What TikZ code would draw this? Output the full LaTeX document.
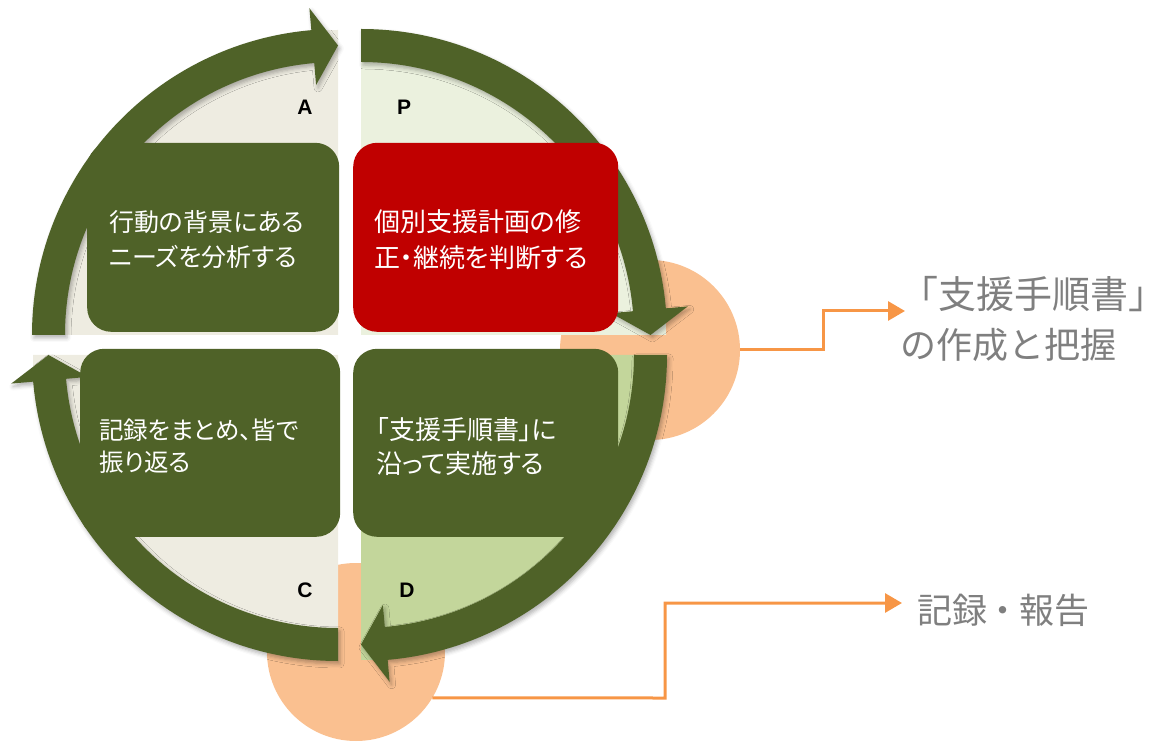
\documentclass[tikz,border=0pt]{standalone}
\usepackage{fontspec}
\newfontfamily\jp{Noto Sans CJK JP}
\newfontfamily\jpp[RawFeature=+palt]{Noto Sans CJK JP}
\newfontfamily\lat{Liberation Sans}
\usetikzlibrary{arrows.meta,shadows.blur}
\definecolor{olive}{HTML}{4F6228}
\definecolor{darkred}{HTML}{C00000}
\definecolor{tanfill}{HTML}{EEECE1}
\definecolor{pfill}{HTML}{EBF1DE}
\definecolor{dfill}{HTML}{C3D69B}
\definecolor{peach}{HTML}{FAC090}
\definecolor{orangeline}{HTML}{F79646}
\definecolor{labelgray}{HTML}{7F7F7F}
\newcommand\bandarrow[4]{%
  \begin{scope}[shift={#1}]
    \fill[arrowband] (#2:306) arc[start angle=#2, end angle=#3, radius=306]
      -- (#3:328) -- (#4:289.5) -- (#3:251) -- (#3:273)
      arc[start angle=#3, end angle=#2, radius=273] -- cycle;
  \end{scope}}
\tikzset{
  arrowband/.style={fill=olive, blur shadow={shadow xshift=2pt, shadow yshift=-3pt, shadow blur radius=4pt, shadow opacity=30}},
  stepbox/.style={rectangle, rounded corners=24pt, inner sep=0pt, anchor=south west},
  boxtext/.style={anchor=base west, inner sep=0pt, text=white, font=\jpp\fontsize{26}{35}\selectfont},
  phase/.style={inner sep=0pt, font=\lat\bfseries\fontsize{21}{24}\selectfont, text=black},
  peachdot/.style={circle, fill=peach, inner sep=0pt},
  conn/.style={draw=orangeline, line width=3pt, -{Triangle[length=17pt,width=19pt]}},
  sidelabel/.style={anchor=base west, inner sep=0pt, text=labelgray}
}
\newcommand\narrowdot[1]{\kern-#1em・\kern-#1em}
\begin{document}
\begin{tikzpicture}[x=1pt,y=1pt]
\useasboundingbox (0,0) rectangle (1169,742);
% peach circles behind
\node[peachdot, minimum size=180pt] (pc1) at (650,392) {};
\node[peachdot, minimum size=178pt] (pc2) at (356,90) {};
% quadrant fills
\fill[tanfill] (338,407) -- ++(180:305) arc[start angle=180, end angle=90, radius=305] -- cycle;
\fill[pfill] (361,407) -- ++(90:305) arc[start angle=90, end angle=0, radius=305] -- cycle;
\fill[dfill] (361,387) -- ++(0:305) arc[start angle=0, end angle=-90, radius=305] -- cycle;
\fill[tanfill] (338,387) -- ++(-90:305) arc[start angle=-90, end angle=-180, radius=305] -- cycle;
% cycle arrows
\bandarrow{(338,407)}{180}{95}{90}
\bandarrow{(361,407)}{90}{5}{0}
\bandarrow{(361,387)}{0}{-85}{-90}
\bandarrow{(338,387)}{-90}{-175}{-180}
% boxes (in front of the arrows)
\node[stepbox, fill=olive, minimum width=252pt, minimum height=189pt] (bA) at (87,410) {};
\node[stepbox, fill=darkred, minimum width=265pt, minimum height=189pt] (bP) at (353,410) {};
\node[stepbox, fill=olive, minimum width=260pt, minimum height=188pt] (bC) at (80,205) {};
\node[stepbox, fill=olive, minimum width=265pt, minimum height=188pt] (bD) at (353,205) {};
% phase letters
\node[phase] (lA) at (305,635) {A};
\node[phase] (lP) at (404,635) {P};
\node[phase] (lC) at (305,152) {C};
\node[phase] (lD) at (407,152) {D};
% box texts
\node[boxtext, font=\jpp\fontsize{25}{35}\selectfont] (tA1) at (109,510) {行動の背景にある};
\node[boxtext, font=\jpp\fontsize{25}{35}\selectfont] (tA2) at (109,475) {ニーズを分析する};
\node[boxtext] (tP1) at (374,510) {個別支援計画の修};
\node[boxtext] (tP2) at (374,474) {正・継続を判断する};
\node[boxtext, font=\jpp\fontsize{24.5}{35}\selectfont] (tC1) at (99,302) {記録をまとめ、皆で};
\node[boxtext, font=\jpp\fontsize{24.5}{35}\selectfont] (tC2) at (99,270) {振り返る};
\node[boxtext] (tD1) at (376,302) {「支援手順書」に};
\node[boxtext] (tD2) at (376,269) {沿って実施する};
% side labels
\node[sidelabel, font=\jp\fontsize{38}{50}\selectfont] (lab1) at (900,433) {「支援手順書」};
\node[sidelabel, font=\jp\fontsize{36}{50}\selectfont] (lab1b) at (900,383) {の作成と把握};
\node[sidelabel, font=\jp\fontsize{35}{50}\selectfont] (lab2) at (917,119) {記録\narrowdot{0.04}報告};
% connectors
\coordinate (t1) at (905,431);
\coordinate (t2) at (902,139);
\draw[conn] (pc1.east) -- (823,392) |- (t1);
\draw[conn] (pc2.-31) -- (665,44) |- (t2);
\end{tikzpicture}
\end{document}
